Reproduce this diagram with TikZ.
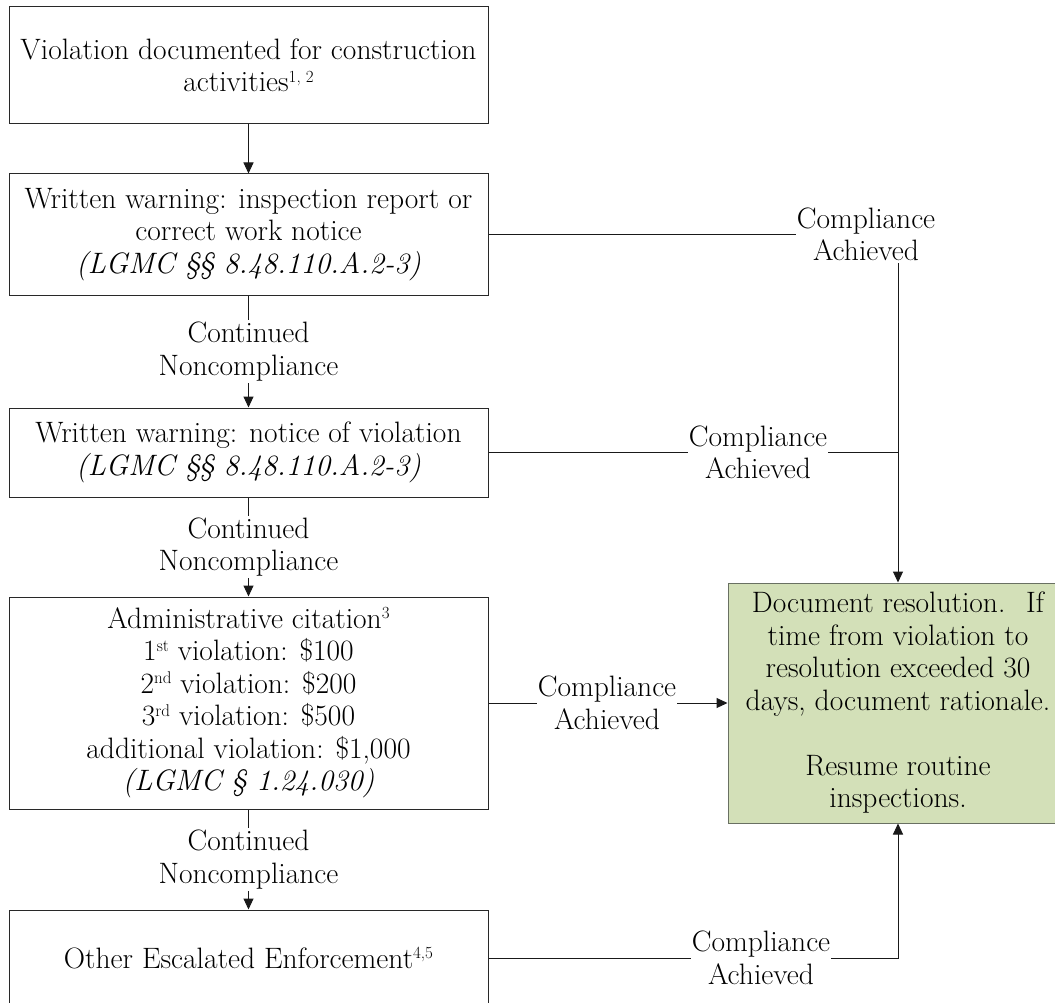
\documentclass[tikz,border=0pt]{standalone}
\usetikzlibrary{arrows.meta}
\definecolor{greenfill}{RGB}{211,224,184}
\definecolor{greenedge}{RGB}{105,112,98}
\definecolor{boxedge}{RGB}{40,40,40}
\definecolor{lineclr}{RGB}{25,25,25}
\newcommand{\smallsup}[1]{\raisebox{0.75ex}{\fontsize{17}{17}\selectfont #1}}
\begin{document}
\begin{tikzpicture}[x=1pt,y=-1pt,
  every node/.style={font=\fontsize{29.5}{32.5}\selectfont},
  flowbox/.style={draw=boxedge, line width=1pt, minimum width=479pt, align=center, inner sep=0pt},
  resbox/.style={draw=greenedge, fill=greenfill, line width=1pt, minimum width=340pt, minimum height=240pt, align=center, inner sep=0pt},
  lab/.style={fill=white, inner xsep=1pt, inner ysep=2pt, align=center},
  conn/.style={draw=lineclr, line width=1pt},
  arr/.style={conn, -{Triangle[length=11pt,width=10pt]}}
]
\useasboundingbox (0,0) rectangle (1055,1003);
\clip (0,0) rectangle (1055,1003);

\node[flowbox, minimum height=117pt] (b1) at (248.5,65.5)
  {Violation documented for construction\\activities\smallsup{1, 2}};
\node[flowbox, minimum height=121pt] (b2) at (248.5,234.5)
  {Written warning: inspection report or\\correct work notice\\{\itshape (LGMC \S\S\ 8.48.110.A.2-3)}};
\node[flowbox, minimum height=89pt] (b3) at (248.5,452.5)
  {Written warning: notice of violation\\{\itshape (LGMC \S\S\ 8.48.110.A.2-3)}};
\node[flowbox, minimum height=212pt] (b4) at (248.5,703)
  {Administrative citation\smallsup{3}\\1\smallsup{st} violation: \$100\\2\smallsup{nd} violation: \$200\\3\smallsup{rd} violation: \$500\\additional violation: \$1,000\\{\itshape (LGMC \S\ 1.24.030)}};
\node[flowbox, minimum height=96pt] (b5) at (248.5,958)
  {Other Escalated Enforcement\smallsup{4,5}};
\node[resbox] (g) at (898,703)
  {Document resolution.~ If\\time from violation to\\resolution exceeded 30\\days, document rationale.\\[32.5pt]Resume routine\\inspections.};

\draw[arr] (b1) -- (b2);
\draw[arr] (b2) -- node[lab] (n1) {Continued\\Noncompliance} (b3);
\draw[arr] (b3) -- node[lab] (n2) {Continued\\Noncompliance} (b4);
\draw[arr] (b4) -- node[lab] (n3) {Continued\\Noncompliance} (b5);

\draw[arr] (b2.east) -| (g.north);
\draw[conn] (b3.east) -- (g.north |- b3.east);
\draw[arr] (b4.east) -- (g.west);
\draw[arr] (b5.east) -| (g.south);

\node[lab] (c1) at (866,234.5) {Compliance\\Achieved};
\node[lab] (c2) at (758,452.5) {Compliance\\Achieved};
\node[lab] (c3) at (607,703) {Compliance\\Achieved};
\node[lab] (c4) at (761,958) {Compliance\\Achieved};
\end{tikzpicture}
\end{document}
